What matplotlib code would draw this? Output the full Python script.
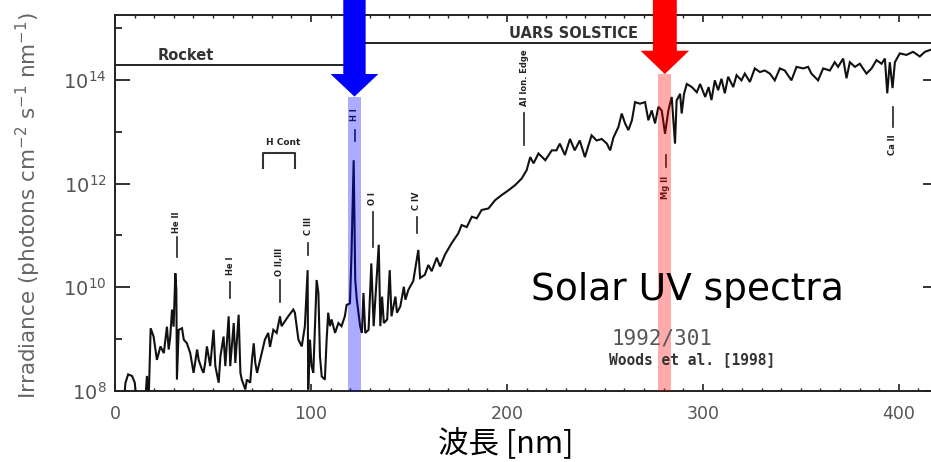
import numpy as np
import matplotlib
matplotlib.use("Agg")
import matplotlib.pyplot as plt
import matplotlib.transforms as mtransforms
from matplotlib.patches import Polygon
from matplotlib.ticker import MultipleLocator, FixedLocator, NullFormatter

# ---------------- data ----------------
wavelength_nm = [
    4.5, 5.3, 6.7, 8.7, 10.1, 11.0, 15.3, 16.3, 17.2, 18.2,
    19.7, 21.4, 23.2, 24.9, 26.5, 27.4, 28.2, 29.1, 29.9, 30.8,
    31.3, 31.6, 32.5, 34.2, 35.1, 36.7, 38.4, 40.1, 41.9, 42.7,
    44.4, 45.2, 46.0, 46.9, 48.6, 50.3, 51.2, 52.9, 53.8, 55.4,
    56.3, 58.0, 58.8, 60.6, 61.4, 63.1, 64.0, 64.7, 66.5, 67.3,
    69.0, 69.9, 70.8, 71.6, 72.5,
    74.9, 76.5, 78.2, 79.1, 80.8, 82.5, 84.2, 85.0, 88.4, 91.0,
    91.8, 93.6, 95.3, 96.9, 98.3, 98.6, 99.5, 100.3, 101.2, 102.9,
    103.8, 104.6, 105.5, 107.1, 108.0, 108.8, 109.7, 110.5, 112.3, 114.0,
    115.6, 117.3, 118.2, 119.9, 120.7, 121.8, 122.6, 123.4, 125.1, 126.0,
    126.8, 127.7, 129.4, 130.8, 132.0, 134.6, 135.4, 136.3, 137.2, 138.9,
    140.2, 141.1, 143.1, 143.9, 145.6, 147.4, 148.2,
    149.7, 152.2, 154.8, 155.7, 158.1, 159.9, 161.6, 164.2, 165.9, 168.4,
    171.8, 175.2, 176.9, 179.5, 182.1, 184.6, 187.1, 190.6, 194.0, 197.4,
    200.8, 204.2, 207.6, 210.1, 211.9, 213.6, 216.1, 219.6, 222.9,
    225.3, 227.0, 229.6, 232.2, 234.6, 237.2, 239.8, 243.2, 245.8, 248.4,
    251.0, 252.7, 254.4, 256.9, 258.6, 260.3, 262.0, 263.8, 265.4, 267.9,
    270.5, 272.2, 273.9, 275.6, 277.3, 279.0, 280.7, 282.4, 284.1, 285.8,
    286.6, 288.4, 289.2, 290.4, 291.8, 294.4, 296.9, 298.6, 301.2, 302.9,
    304.4, 306.1, 307.8, 309.5, 311.2, 312.9, 315.5, 317.2, 319.7, 321.4,
    324.0, 326.5, 329.1, 331.6, 334.2, 336.7, 339.3, 341.8, 345.2, 347.8,
    351.2, 353.7, 355.4, 358.8, 361.4, 364.8, 367.3, 369.0, 371.6, 373.3,
    375.0, 377.6, 380.1, 383.5, 386.1, 388.6, 391.2, 392.9, 394.1, 395.4,
    396.8, 398.0, 400.5, 403.9, 407.3, 410.7, 413.3, 416.3, 420.0,
]
log10_irradiance = [
    7.75, 8.15, 8.32, 8.29, 8.16, 7.75, 7.75, 8.29, 7.85, 9.21,
    9.05, 8.60, 8.86, 8.73, 9.24, 8.80, 9.05, 9.57, 9.24, 10.27,
    9.95, 8.22, 9.18, 9.21, 8.99, 8.92, 8.73, 8.35, 8.80, 8.60,
    8.41, 8.35, 8.54, 8.86, 8.48, 9.18, 8.48, 8.16, 8.67, 9.05,
    8.48, 9.44, 8.48, 9.31, 8.54, 9.47, 8.35, 8.22, 8.03, 8.22,
    8.16, 8.60, 8.92, 8.54, 8.35,
    8.73, 8.99, 9.12, 8.85, 9.18, 9.12, 9.44, 9.25, 9.44, 9.57,
    9.51, 8.99, 8.86, 9.25, 10.33, 8.03, 8.99, 8.48, 8.35, 10.14,
    9.89, 8.67, 8.28, 8.22, 8.99, 9.51, 9.25, 9.38, 9.12, 9.31,
    9.25, 9.44, 9.66, 9.69, 10.65, 12.45, 10.14, 9.76, 9.25, 9.12,
    9.89, 9.12, 9.18, 10.46, 9.25, 10.82, 9.25, 9.82, 9.31, 9.38,
    10.33, 9.44, 9.82, 9.51, 9.63, 10.01, 9.76,
    9.95, 10.12, 10.72, 10.18, 10.24, 10.43, 10.31, 10.57, 10.40, 10.63,
    10.85, 11.04, 11.20, 11.16, 11.36, 11.33, 11.49, 11.52, 11.68, 11.78,
    11.87, 11.97, 12.10, 12.26, 12.51, 12.39, 12.58, 12.45, 12.64,
    12.64, 12.77, 12.55, 12.86, 12.64, 12.83, 12.51, 12.93, 12.83, 12.86,
    12.77, 12.64, 12.89, 13.09, 13.35, 13.16, 13.03, 13.22, 13.57, 13.54,
    13.57, 13.22, 13.41, 13.16, 13.48, 13.41, 12.96, 13.41, 13.67, 12.77,
    13.60, 13.73, 13.35, 13.73, 13.92, 13.86, 13.76, 13.92, 13.67, 13.86,
    13.61, 13.99, 13.80, 14.02, 13.74, 14.06, 13.86, 14.09, 13.99, 14.12,
    13.96, 14.22, 14.15, 14.18, 14.12, 13.99, 14.22, 14.18, 13.99, 14.25,
    14.22, 14.25, 14.12, 13.99, 14.22, 14.18, 14.34, 14.25, 14.41, 14.03,
    14.34, 14.25, 14.31, 14.12, 14.22, 14.38, 14.31, 14.41, 13.74, 14.34,
    13.84, 14.34, 14.51, 14.48, 14.54, 14.45, 14.54, 14.58, 14.56,
]

x_ticks = [0, 100, 200, 300, 400]
y_ticks = [1e8, 1e10, 1e12, 1e14]
y_tick_labels = ["$10^{8}$", "$10^{10}$", "$10^{12}$", "$10^{14}$"]
y_minor_ticks = [1e9, 1e11, 1e13, 1e15]

ion_names = ["He II", "He I", "O II,III", "C III", "H I", "O I", "C IV",
             "Al Ion. Edge", "Mg II", "Ca II"]
ion_wavelengths = [31.6, 58.7, 84.2, 98.5, 122.4, 131.5, 153.9, 208.8, 281.1, 396.8]

source_names = ["Rocket", "UARS SOLSTICE"]
source_ranges = [(0, 120), (120, 420)]

highlight_centers = [122.2, 280.6]   # Lyman alpha (blue), Mg II (red)

# ---------------- layout / styles ----------------
W, H = 931, 462
fig = plt.figure(figsize=(W / 100, H / 100), dpi=100)
ax_l, ax_r, ax_t, ax_b = 115, 938, 15, 391
ax = fig.add_axes([ax_l / W, 1 - ax_b / H, (ax_r - ax_l) / W, (ax_b - ax_t) / H])

irr = 10 ** np.array(log10_irradiance)
ax.plot(wavelength_nm, irr, color="#111111", lw=1.5, zorder=3,
        solid_joinstyle="miter")

ax.set_yscale("log")
ax.set_xlim(0, 420)
ax.set_ylim(1e8, 10 ** 15.25)

ax.set_xticks(x_ticks)
ax.set_xticklabels([str(t) for t in x_ticks])
ax.xaxis.set_minor_locator(MultipleLocator(10))
ax.set_yticks(y_ticks)
ax.set_yticklabels(y_tick_labels)
ax.yaxis.set_minor_locator(FixedLocator(y_minor_ticks))
ax.yaxis.set_minor_formatter(NullFormatter())

ax.tick_params(which="both", direction="in", top=True, right=True, color="#222222")
ax.tick_params(axis="y", which="major", length=11, width=1.3, labelsize=14,
               labelcolor="#555555", pad=6)
ax.tick_params(axis="y", which="minor", length=5, width=1.3)
ax.tick_params(axis="x", which="major", length=5, width=1.2, labelsize=12.5,
               labelcolor="#555555", pad=10)
ax.tick_params(axis="x", which="minor", length=2.5, width=1.0)
for sp in ax.spines.values():
    sp.set_linewidth(1.4)
    sp.set_color("#222222")

trans = mtransforms.blended_transform_factory(ax.transData, ax.transAxes)

# data-source brackets
source_y = [0.867, 0.926]
source_text_pos = [(36.2, 0.891), (234.0, 0.952)]
for (x0, x1), yy, name, (tx, ty) in zip(source_ranges, source_y, source_names, source_text_pos):
    ax.plot([x0, x1], [yy, yy], transform=trans, color="#222222", lw=1.4, zorder=4)
    ax.text(tx, ty, name, transform=trans, ha="center", va="center",
            fontsize=10.5, fontweight="bold", color="#333333")

# ion-line annotations: text y (axes frac), dash y0, y1
ion_text_y = [0.449, 0.332, 0.343, 0.439, 0.734, 0.511, 0.505, 0.832, 0.541, 0.654]
ion_dash_y = [(0.356, 0.410), (0.247, 0.290), (0.237, 0.295), (0.362, 0.394),
              (0.665, 0.695), (0.383, 0.476), (0.420, 0.463), (0.654, 0.739),
              (0.596, 0.628), (0.702, 0.755)]
for name, wl, ty, (d0, d1) in zip(ion_names, ion_wavelengths, ion_text_y, ion_dash_y):
    ax.plot([wl, wl], [d0, d1], transform=trans, color="#222222", lw=1.2, zorder=4)
    ax.text(wl, ty, name, transform=trans, rotation=90, ha="center", va="center",
            fontsize=6, fontweight="bold", color="#222222")

# H continuum bracket
ax.plot([75.4, 75.4, 91.8, 91.8], [0.593, 0.632, 0.632, 0.593], transform=trans,
        color="#333333", lw=1.5, zorder=4)
ax.text(86.0, 0.662, "H Cont", transform=trans, ha="center", va="center",
        fontsize=6.5, fontweight="bold", color="#222222")

# highlight bands and arrows
band_hw = 3.35
band_top = [0.783, 0.843]
colors = ["#0000ff", "#ff0000"]
head_base = [0.843, 0.905]
shaft_hw = [5.7, 6.1]
head_hw = [12.2, 12.4]
for xc, bt, c, hb, sh, hh in zip(highlight_centers, band_top, colors, head_base, shaft_hw, head_hw):
    ax.axvspan(xc - band_hw, xc + band_hw, ymin=0, ymax=bt, color=c, alpha=0.33,
               lw=0, zorder=5)
    verts = [(xc - sh, 1.08), (xc - sh, hb), (xc - hh, hb), (xc, bt),
             (xc + hh, hb), (xc + sh, hb), (xc + sh, 1.08)]
    ax.add_patch(Polygon(verts, closed=True, transform=trans, facecolor=c,
                         edgecolor="none", clip_on=False, zorder=10))

# texts
fig.text(28 / W, 1 - 205 / H, "Irradiance (photons cm$^{-2}$ s$^{-1}$ nm$^{-1}$)",
         rotation=90, ha="center", va="center", fontsize=15.5, color="#666666")
fig.text(687 / W, 1 - 290 / H, "Solar UV spectra", ha="center", va="center",
         fontsize=27, color="black")
fig.text(662.5 / W, 1 - 338 / H, "1992/301", ha="center", va="center",
         family="DejaVu Sans Mono", fontsize=15, color="#555555")
fig.text(692 / W, 1 - 360 / H, "Woods et al. [1998]", ha="center", va="center",
         family="DejaVu Sans Mono", fontweight="bold", fontsize=10.5, color="#333333")
fig.text(506 / W, 1 - 443.5 / H, "波長 [nm]", ha="center", va="center",
         family=["Noto Sans CJK JP", "DejaVu Sans"], fontsize=22, color="black")

fig.savefig("out.png", dpi=100)
